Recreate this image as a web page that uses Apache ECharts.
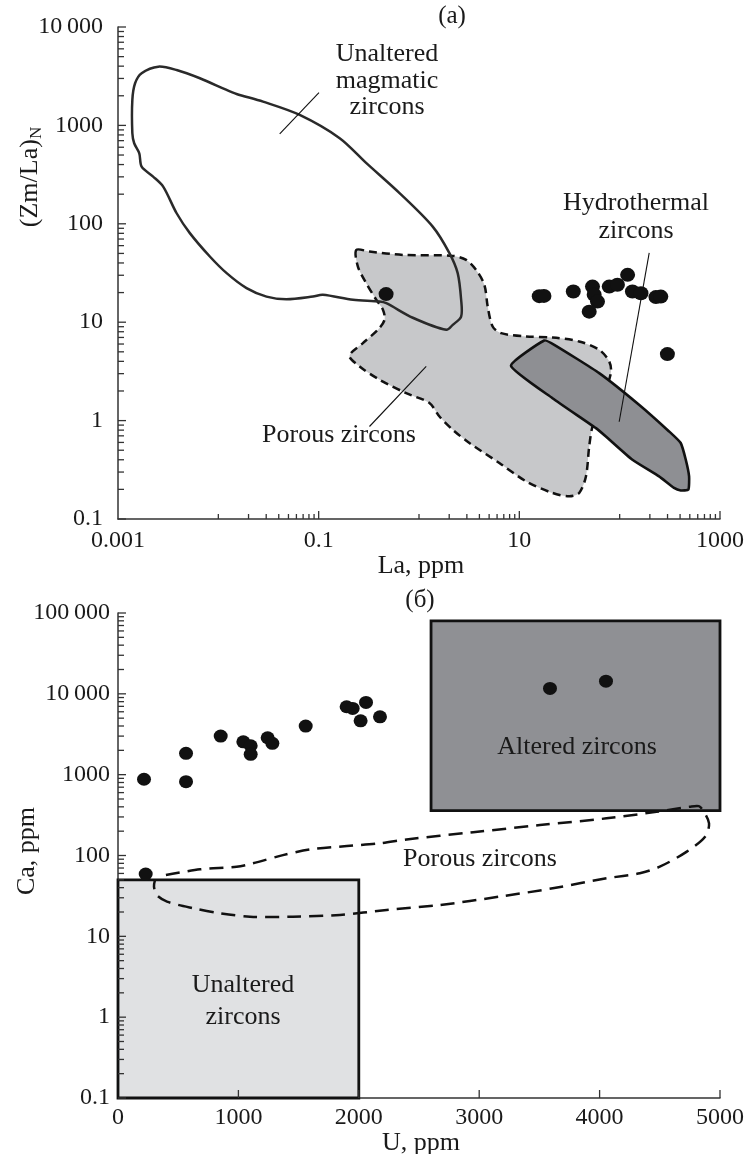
<!DOCTYPE html>
<html>
<head>
<meta charset="utf-8">
<script src="https://cdn.jsdelivr.net/npm/echarts@6/dist/echarts.min.js"></script>
<style>
    html, body { margin: 0; padding: 0; background: #fff; }
    #chart { width: 747px; height: 1154px; }
</style>
</head>
<body>
<div id="chart"></div>
<script>
// ---- panel (a): La, ppm vs (Zm/La)N ----
var a_x_labels = [0.001, 0.1, 10, 1000];
var a_y_labels = [0.1, 1, 10, 100, 1000, 10000];
var a_x_tick_major = [0.1, 10, 1000];
var a_x_tick_decades = [0.01, 1, 100];   // decades with minor ticks on the La axis

var a_points = [[0.47, 19.3], [15.8, 18.4], [17.6, 18.5], [34.5, 20.5], [53.6, 23], [55.7, 19],
    [60.1, 16.2], [49.7, 12.8], [78.7, 23], [95, 24], [120, 30.3], [134, 20.5], [163, 19.7],
    [230, 18], [257, 18.2], [299, 4.74]];

var a_magmatic = [[0.00139, 1815], [0.00148, 2680], [0.00172, 3388], [0.00252, 3954], [0.00384, 3656],
    [0.00655, 3013], [0.0121, 2291], [0.0152, 2088], [0.0279, 1743], [0.0647, 1277], [0.162, 741],
    [0.299, 413], [0.64, 205], [1.37, 93.7], [2.01, 50.4], [2.43, 31.5], [2.63, 16.9], [2.63, 11.4],
    [2.17, 9.4], [1.87, 8.37], [0.867, 11.1], [0.472, 15.6], [0.405, 16.2], [0.22, 16.9], [0.11, 19],
    [0.0877, 18.2], [0.0477, 17.1], [0.0302, 18.2], [0.0191, 22.2], [0.0121, 31.5], [0.00823, 46.5],
    [0.0052, 80.4], [0.00384, 128], [0.00282, 239], [0.00224, 302], [0.00172, 381], [0.00163, 521],
    [0.00145, 659], [0.00139, 832]];

var a_porous = [[0.237, 54.3], [0.321, 52.2], [0.69, 48.3], [2.17, 47.2], [2.95, 43], [3.71, 34],
    [4.48, 24], [4.84, 14.4], [5.42, 9.04], [6.58, 7.74], [11.7, 7.16], [21.4, 6.99], [39.5, 6.37],
    [62.5, 5.24], [78.7, 3.99], [81.7, 3.04], [67, 1.63], [53.6, 0.871], [49.7, 0.546], [46.1, 0.271],
    [39.5, 0.184], [31.5, 0.17], [21.4, 0.184], [11.7, 0.241], [6.32, 0.371], [3.18, 0.592],
    [2.17, 0.807], [1.6, 1.1], [1.27, 1.51], [0.746, 1.9], [0.405, 2.6], [0.256, 3.55], [0.203, 4.56],
    [0.276, 6.13], [0.389, 8.37], [0.454, 10.6], [0.437, 13.4], [0.375, 16.9], [0.298, 24.9],
    [0.246, 36.8]];

var a_hydro = [[8.26, 3.61], [17.7, 6.52], [22.3, 5.89], [62.5, 3.04], [156, 1.45], [311, 0.776],
    [406, 0.592], [456, 0.4], [492, 0.271], [484, 0.199], [406, 0.195], [348, 0.207], [247, 0.271],
    [134, 0.4], [72.9, 0.69], [58, 0.839], [21.4, 1.69]];

var a_magmatic_pointer = [[0.0409, 819], [0.1007, 2153]];
var a_hydro_pointer = [[197, 50.7], [98.9, 0.973]];
var a_porous_pointer = [[0.321, 0.871], [1.18, 3.55]];

// ---- panel (б): U, ppm vs Ca, ppm ----
var b_x_labels = [0, 1000, 2000, 3000, 4000, 5000];
var b_y_labels = [0.1, 1, 10, 100, 1000, 10000, 100000];
var b_x_tick_major = [1000, 2000, 3000, 4000, 5000];

var b_points = [[216, 877], [565, 1837], [565, 820], [853, 3000], [1041, 2550], [1102, 2280],
    [1102, 1786], [1243, 2864], [1282, 2440], [1559, 3990], [1899, 6920], [1949, 6600], [2060, 7830],
    [2015, 4640], [2176, 5200], [230, 59], [3588, 11660], [4053, 14350]];

var b_unaltered_box = [[0, 0.1], [2000, 50]];
var b_altered_box = [[2600, 360], [5000, 80000]];

var b_porous = [[398, 57.4], [681, 67.5], [985, 72.7], [1121, 80], [1370, 101], [1594, 119],
    [1901, 131], [2175, 141.5], [2397, 158], [2950, 194], [3504, 238], [4057, 288], [4472, 347],
    [4749, 401], [4824, 408], [4857, 365], [4909, 250], [4876, 171], [4721, 111], [4500, 72.7],
    [4334, 60.3], [4057, 52.2], [3611, 39.3], [3171, 31], [2673, 24.4], [2231, 21.2], [1843, 18.4],
    [1453, 17.5], [1096, 17.5], [847, 19.3], [623, 22.3], [407, 26.9], [321, 32.5], [299, 41.1],
    [307, 49.7]];

var MULT = [2, 3, 4, 5, 6, 7, 8, 9];
var FONT = 'Liberation Serif';
var INK = '#1a1a1a';

function minorOf(decades) {
    var out = [];
    decades.forEach(function (d) {
        MULT.forEach(function (m) { out.push(+(d * m).toPrecision(6)); });
    });
    return out;
}

function fmt(v) {
    var s = String(+(+v).toPrecision(6));
    if (v >= 10000) s = s.replace(/(\d)(?=(\d{3})+$)/g, '$1\u2009');
    return s;
}

function onlyIn(list) {
    return function (v) {
        for (var i = 0; i < list.length; i++) {
            if (Math.abs(v - list[i]) <= Math.abs(list[i]) * 1e-6) return fmt(list[i]);
        }
        return '';
    };
}

//tick marks drawn through the axes
function tickLines(xi, yi, pts, side, len) {
    return {
        type: 'custom', xAxisIndex: xi, yAxisIndex: yi, z: 3, silent: true,
        data: pts,
        renderItem: function (params, api) {
            var p = api.coord([api.value(0), api.value(1)]);
            return {
                type: 'line',
                shape: { x1: p[0], y1: p[1], x2: side === 'y' ? p[0] + len : p[0], y2: side === 'x' ? p[1] - len : p[1] },
                style: { stroke: '#333', lineWidth: 1.3 }
            };
        }
    };
}

function shape(xi, yi, pts, kind, smooth, style, z) {
    return {
        type: 'custom', xAxisIndex: xi, yAxisIndex: yi, z: z, silent: true,
        data: [pts[0]],
        renderItem: function (params, api) {
            return {
                type: kind,
                shape: { points: pts.map(function (p) { return api.coord(p); }), smooth: smooth },
                style: style
            };
        }
    };
}

function box(b) {
    return [[b[0][0], b[0][1]], [b[1][0], b[0][1]], [b[1][0], b[1][1]], [b[0][0], b[1][1]]];
}

function xTicks(list, ymin) { return list.map(function (v) { return [v, ymin]; }); }
function yTicks(list, xmin) { return list.map(function (v) { return [xmin, v]; }); }

function note(x, y, text, size, lh, extra) {
    return Object.assign({
        type: 'text', x: x, y: y, z: 10,
        style: { text: text, fontFamily: FONT, fontSize: size, lineHeight: lh, fill: INK, align: 'center', verticalAlign: 'middle' }
    }, extra || {});
}

var axisLineStyle = { lineStyle: { color: '#333', width: 1.5 } };
var labelStyle = { fontFamily: FONT, fontSize: 24, color: INK };

let chart = echarts.init(document.getElementById('chart'));

var option = {
    animation: false,
    backgroundColor: '#fff',
    textStyle: { fontFamily: FONT },
    grid: [
        { left: 118, top: 27, width: 603, height: 492 },
        { left: 118, top: 613, width: 602, height: 485 }
    ],
    xAxis: [
        {
            gridIndex: 0, type: 'log', logBase: 10, min: 0.001, max: 1000,
            axisLine: axisLineStyle, axisTick: { show: false }, splitLine: { show: false },
            axisLabel: Object.assign({ margin: 10, showMinLabel: true, showMaxLabel: true, formatter: onlyIn(a_x_labels) }, labelStyle)
        },
        {
            gridIndex: 1, type: 'value', min: 0, max: 5000, interval: 1000,
            axisLine: axisLineStyle, axisTick: { show: false }, splitLine: { show: false },
            axisLabel: Object.assign({ margin: 8, showMinLabel: true, showMaxLabel: true, formatter: onlyIn(b_x_labels) }, labelStyle)
        }
    ],
    yAxis: [
        {
            gridIndex: 0, type: 'log', logBase: 10, min: 0.1, max: 10000,
            axisLine: axisLineStyle, axisTick: { show: false }, splitLine: { show: false },
            axisLabel: Object.assign({ margin: 15, showMinLabel: true, showMaxLabel: true, formatter: onlyIn(a_y_labels) }, labelStyle)
        },
        {
            gridIndex: 1, type: 'log', logBase: 10, min: 0.1, max: 100000,
            axisLine: axisLineStyle, axisTick: { show: false }, splitLine: { show: false },
            axisLabel: Object.assign({ margin: 8, showMinLabel: true, showMaxLabel: true, formatter: onlyIn(b_y_labels) }, labelStyle)
        }
    ],
    graphic: [
        note(452, 16, '(a)', 25),
        note(421, 566, 'La, ppm', 26),
        {
            type: 'text', x: 30, y: 177, rotation: Math.PI / 2,
            style: {
                text: '{m|(Zm/La)}{s|N}', fill: INK, align: 'center', verticalAlign: 'middle',
                rich: {
                    m: { fontFamily: FONT, fontSize: 26, lineHeight: 30, fill: INK },
                    s: { fontFamily: FONT, fontSize: 17, lineHeight: 30, fill: INK, verticalAlign: 'bottom', padding: [10, 0, 0, 0] }
                }
            }
        },
        note(387, 81, 'Unaltered\nmagmatic\nzircons', 26, 26.5),
        note(636, 217, 'Hydrothermal\nzircons', 26, 28.5),
        note(339, 435, 'Porous zircons', 26),

        note(420, 600, '(б)', 25),
        note(421, 1143, 'U, ppm', 26),
        note(27, 851, 'Ca, ppm', 26, null, { rotation: Math.PI / 2 }),
        note(577, 747, 'Altered zircons', 26),
        note(480, 859, 'Porous zircons', 26),
        note(243, 1001, 'Unaltered\nzircons', 26, 31.5)
    ],
    series: [
        // panel (a)
        shape(0, 0, a_porous, 'polygon', 0.3, { fill: '#c7c8ca', stroke: '#111', lineWidth: 2.5, lineDash: [8, 5] }, 1),
        shape(0, 0, a_magmatic, 'polygon', 0.3, { fill: 'none', stroke: '#2a2a2a', lineWidth: 2.5 }, 2),
        shape(0, 0, a_hydro, 'polygon', 0.15, { fill: '#8e8f93', stroke: '#111', lineWidth: 2.6 }, 2),
        shape(0, 0, a_magmatic_pointer, 'polyline', 0, { fill: 'none', stroke: '#111', lineWidth: 1.1 }, 3),
        shape(0, 0, a_hydro_pointer, 'polyline', 0, { fill: 'none', stroke: '#111', lineWidth: 1.1 }, 3),
        shape(0, 0, a_porous_pointer, 'polyline', 0, { fill: 'none', stroke: '#111', lineWidth: 1.1 }, 3),
        tickLines(0, 0, xTicks(a_x_tick_major, 0.1), 'x', 8),
        tickLines(0, 0, xTicks(a_x_tick_decades.concat(minorOf(a_x_tick_decades)), 0.1), 'x', 5),
        tickLines(0, 0, yTicks(a_y_labels, 0.001), 'y', 8),
        tickLines(0, 0, yTicks(minorOf([0.1, 1, 10, 100, 1000]), 0.001), 'y', 6),
        {
            type: 'scatter', xAxisIndex: 0, yAxisIndex: 0, z: 5, silent: true,
            data: a_points, symbol: 'circle', symbolSize: [15, 14],
            itemStyle: { color: '#111', opacity: 1 }
        },
        // panel (б)
        shape(1, 1, box(b_unaltered_box), 'polygon', 0, { fill: '#e0e1e3', stroke: '#111', lineWidth: 2.8 }, 1),
        shape(1, 1, box(b_altered_box), 'polygon', 0, { fill: '#8f9094', stroke: '#111', lineWidth: 2.8 }, 1),
        shape(1, 1, b_porous, 'polyline', 0.3, { fill: 'none', stroke: '#111', lineWidth: 2.5, lineDash: [14, 8] }, 2),
        tickLines(1, 1, xTicks(b_x_tick_major, 0.1), 'x', 8),
        tickLines(1, 1, yTicks(b_y_labels, 0), 'y', 8),
        tickLines(1, 1, yTicks(minorOf([0.1, 1, 10, 100, 1000, 10000]), 0), 'y', 6),
        {
            type: 'scatter', xAxisIndex: 1, yAxisIndex: 1, z: 5, silent: true,
            data: b_points, symbol: 'circle', symbolSize: [14, 13],
            itemStyle: { color: '#111', opacity: 1 }
        }
    ]
};

chart.setOption(option);
</script>
</body>
</html>
